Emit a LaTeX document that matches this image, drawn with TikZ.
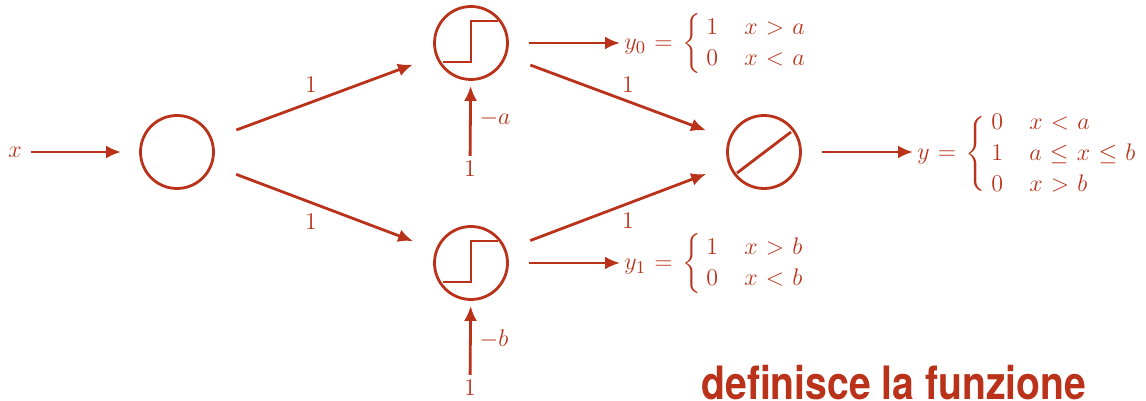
\documentclass[tikz,border=0pt]{standalone}
\usepackage{amsmath,amssymb}
\usepackage{fontspec}
\newfontfamily\headfont[FakeStretch=0.85]{TeX Gyre Heros}
\usetikzlibrary{arrows.meta,positioning,calc}
\definecolor{netred}{HTML}{B93219}
\newcommand{\twocase}[1]{\mkern1mu\bigg\{\mkern4mu\begin{array}{@{}l@{\hspace{1.05em}}l@{}}#1\end{array}}
\newcommand{\threecase}[1]{\mkern1mu\delimiterfactor=800\delimitershortfall=12pt\left\{\mkern4mu\begin{array}{@{}l@{\hspace{1.05em}}l@{}}#1\end{array}\right.}
\newcommand{\eqnfont}{\fontsize{12.5}{15.5}\selectfont\thickmuskip=6.2mu\relax}
\tikzset{
  neuron/.style={draw,circle,minimum size=36.5pt,inner sep=0pt,line width=1.4pt},
  wire/.style={line width=1.4pt},
  conn/.style={line width=1.4pt,-{Latex[length=7.5pt,width=6.5pt]}},
  lab/.style={inner sep=1.5pt,font=\fontsize{12.5}{15.5}\selectfont},
  eqn/.style={inner sep=1pt,anchor=west,font=\eqnfont},
}
\begin{document}
\begin{tikzpicture}[x=.5pt,y=.5pt,color=netred,text=netred]
  \useasboundingbox (0,0) rectangle (1146,401);
  % units
  \node[neuron] (in) at (177,249) {};
  \node[neuron] (top) at (471,358) {};
  \node[neuron] (bot) at (471,138) {};
  \node[neuron] (out) at (764,249) {};
  % what is drawn inside the units
  \draw[wire] (top) ++(-28,-19) -- ++(28,0) -- ++(0,41) -- ++(27,0);
  \draw[wire] (bot) ++(-28,-19) -- ++(28,0) -- ++(0,41) -- ++(27,0);
  \draw[wire] (out) ++(-27,-21) -- ++(54,41);
  % texts
  \node[lab] (x) at (15,249) {$x$};
  \node[lab] (onetop) at (470,232) {$1$};
  \node[lab] (onebot) at (470,13) {$1$};
  \node[lab] at (495,282) {$-a$};
  \node[lab] at (494,62) {$-b$};
  \node[lab] at (311,316) {$1$};
  \node[lab] at (311,179) {$1$};
  \node[lab] at (628,316) {$1$};
  \node[lab] at (628,180) {$1$};
  \node[eqn] (ytop) at (622,357) {$y_0=\twocase{1 & x>a\\ 0 & x<a}$};
  \node[eqn] (ybot) at (622,137) {$y_1=\twocase{1 & x>b\\ 0 & x<b}$};
  \node[eqn] (yout) at (915,247) {$y=\threecase{0 & x<a\\ 1 & a\le x\le b\\ 0 & x>b}$};
  \node[anchor=base west,inner sep=0pt,font=\headfont\fontsize{23}{23}\selectfont\bfseries] (title) at (701,1) {definisce la funzione};
  % connectors
  \draw[conn,shorten <=3pt,shorten >=9pt] (x) -- (in);
  \draw[conn,shorten <=12.7pt,shorten >=12pt] (in) -- (top);
  \draw[conn,shorten <=12.7pt,shorten >=12pt] (in) -- (bot);
  \draw[conn,shorten <=12.7pt,shorten >=12pt] (top) -- (out);
  \draw[conn,shorten <=12.7pt,shorten >=12pt] (bot) -- (out);
  \draw[conn,shorten <=10.2pt,shorten >=1pt] (top) -- (top -| ytop.west);
  \draw[conn,shorten <=10.2pt,shorten >=1pt] (bot) -- (bot -| ybot.west);
  \draw[conn,shorten <=10.2pt,shorten >=1pt] (out) -- (out -| yout.west);
  \draw[conn,shorten <=1pt,shorten >=2.5pt] (onetop) -- (top);
  \draw[conn,shorten <=1pt,shorten >=2.5pt] (onebot) -- (bot);
\end{tikzpicture}
\end{document}
